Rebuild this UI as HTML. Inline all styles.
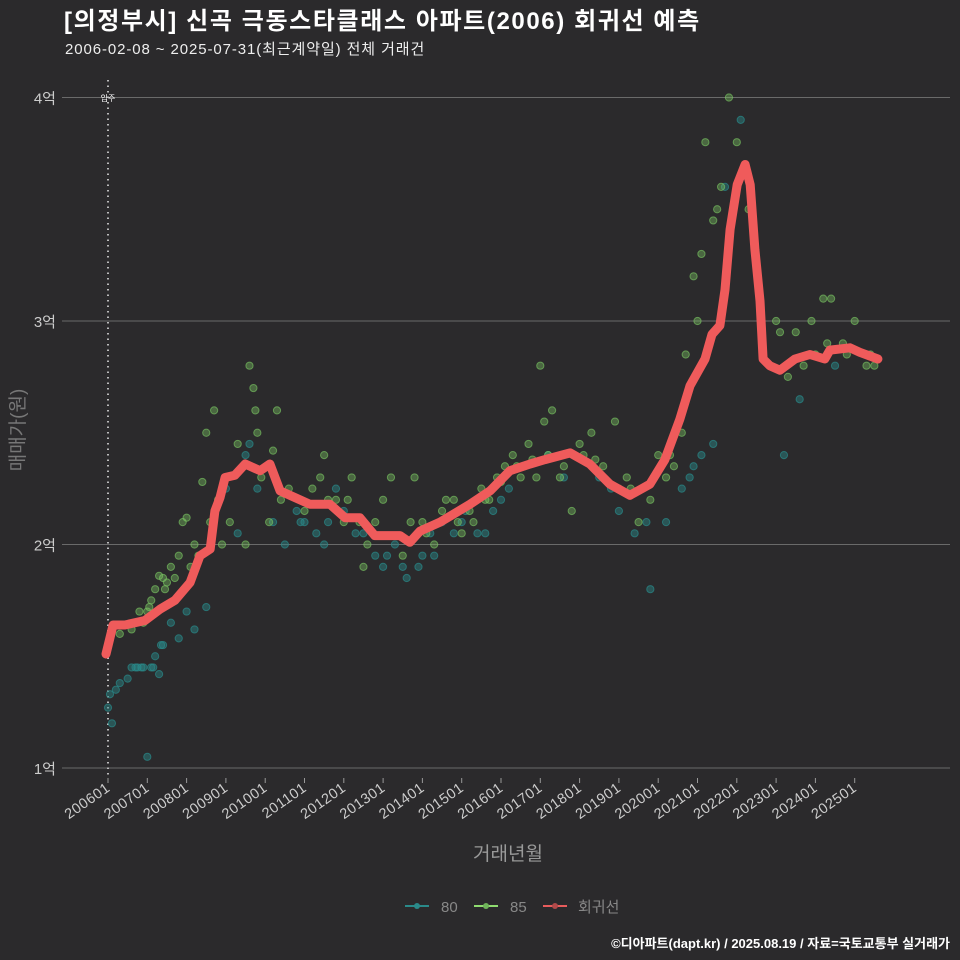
<!DOCTYPE html>
<html><head><meta charset="utf-8"><style>
body{margin:0;background:#2b2a2c;}
svg{display:block;font-family:"Liberation Sans","Noto Sans CJK KR",sans-serif;}
</style></head><body>
<svg id="c" width="960" height="960" xmlns="http://www.w3.org/2000/svg">
<rect width="960" height="960" fill="#2b2a2c"/>
<text x="64" y="29" font-size="24" font-weight="bold" fill="#fff" letter-spacing="1.6">[의정부시] 신곡 극동스타클래스 아파트(2006) 회귀선 예측</text>
<text x="65" y="54" font-size="15" fill="#eee" letter-spacing="0.9">2006-02-08 ~ 2025-07-31(최근계약일) 전체 거래건</text>
<g id="grid"></g><g id="pts"></g><g id="line"></g><g id="axes"></g>
<text x="508" y="860" font-size="19" fill="#999" text-anchor="middle">거래년월</text>
<text transform="translate(24,430) rotate(-90)" font-size="19" fill="#777" text-anchor="middle">매매가(원)</text>
<g>
<g><line x1="405" y1="906" x2="429" y2="906" stroke="#2a8a8a" stroke-width="2"/><circle cx="417" cy="906" r="3" fill="#2a8a8a"/><text x="441" y="912" font-size="15" fill="#888">80</text></g>
<g><line x1="474" y1="906" x2="498" y2="906" stroke="#8fdc70" stroke-width="2"/><circle cx="486" cy="906" r="3" fill="#6fb35a"/><text x="510" y="912" font-size="15" fill="#888">85</text></g>
<g><line x1="543" y1="906" x2="567" y2="906" stroke="#e85c5c" stroke-width="2"/><circle cx="555" cy="906" r="3" fill="#b04a4a"/><text x="578" y="912" font-size="15" fill="#888">회귀선</text></g>
</g>
<text x="950" y="948" font-size="13" font-weight="bold" fill="#fff" text-anchor="end">©디아파트(dapt.kr) / 2025.08.19 / 자료=국토교통부 실거래가</text>
</svg>
<script>
const yTicks=[1,2,3,4];
const yTickLabels=["1억","2억","3억","4억"];
const xTickYears=[2006,2007,2008,2009,2010,2011,2012,2013,2014,2015,2016,2017,2018,2019,2020,2021,2022,2023,2024,2025];
const xTickLabels=["200601","200701","200801","200901","201001","201101","201201","201301","201401","201501","201601","201701","201801","201901","202001","202101","202201","202301","202401","202501"];
const regT=[2005.95,2006.13,2006.43,2006.94,2007.32,2007.70,2008.09,2008.34,2008.60,2008.72,2008.85,2008.98,2009.23,2009.49,2009.87,2010.12,2010.38,2010.76,2011.14,2011.65,2012.03,2012.41,2012.79,2013.43,2013.68,2013.94,2014.45,2015.21,2015.72,2016.23,2016.74,2017.12,2017.76,2018.26,2018.77,2019.28,2019.79,2020.17,2020.55,2020.81,2021.19,2021.37,2021.57,2021.70,2021.83,2022.01,2022.21,2022.34,2022.46,2022.59,2022.67,2022.84,2023.10,2023.48,2023.86,2024.24,2024.37,2024.88,2025.13,2025.59];
const regV=[1.51,1.64,1.64,1.66,1.71,1.75,1.83,1.95,1.98,2.15,2.21,2.30,2.31,2.36,2.33,2.36,2.24,2.21,2.18,2.18,2.12,2.12,2.04,2.04,2.01,2.06,2.10,2.18,2.24,2.33,2.36,2.38,2.41,2.36,2.27,2.22,2.27,2.38,2.56,2.71,2.83,2.94,2.98,3.14,3.41,3.61,3.70,3.61,3.32,3.09,2.83,2.80,2.78,2.83,2.85,2.83,2.87,2.88,2.86,2.83];
const s85T=[2006.3,2006.6,2006.8,2007.0,2007.1,2007.2,2007.3,2007.4,2007.5,2007.6,2007.8,2007.9,2008.0,2008.2,2008.3,2008.4,2008.5,2008.6,2008.7,2008.9,2009.3,2009.5,2009.6,2009.7,2009.75,2009.8,2010.1,2010.2,2010.3,2010.6,2010.9,2011.2,2011.5,2011.8,2012.0,2012.2,2012.5,2012.8,2013.2,2013.5,2013.8,2014.0,2014.3,2014.5,2014.8,2015.0,2015.3,2015.6,2015.9,2016.1,2016.3,2016.5,2016.7,2017.0,2017.1,2017.3,2017.5,2017.8,2018.0,2018.3,2018.6,2018.9,2019.2,2019.5,2019.8,2020.0,2020.2,2020.4,2020.7,2020.9,2021.0,2021.2,2021.4,2021.6,2021.8,2022.0,2022.3,2023.0,2023.3,2023.5,2023.9,2024.0,2024.2,2024.4,2024.7,2025.0,2025.3,2025.5,2006.9,2007.05,2007.25,2007.45,2007.7,2008.1,2008.8,2009.1,2009.9,2010.4,2011.0,2011.4,2011.6,2012.1,2012.4,2012.6,2013.0,2013.7,2014.1,2014.6,2014.9,2015.2,2015.5,2015.7,2016.0,2016.4,2016.8,2016.9,2017.2,2017.6,2018.1,2018.4,2019.0,2019.3,2019.9,2020.3,2020.6,2021.1,2021.5,2023.1,2023.7,2024.3,2024.8,2025.4];
const s85V=[1.6,1.62,1.7,1.7,1.75,1.8,1.86,1.85,1.83,1.9,1.95,2.1,2.12,2.0,1.95,2.28,2.5,2.1,2.6,2.0,2.45,2.0,2.8,2.7,2.6,2.5,2.1,2.42,2.6,2.25,2.2,2.25,2.4,2.2,2.1,2.3,1.9,2.1,2.3,1.95,2.3,2.1,2.0,2.15,2.2,2.05,2.1,2.2,2.3,2.35,2.4,2.3,2.45,2.8,2.55,2.6,2.3,2.15,2.45,2.5,2.35,2.55,2.3,2.1,2.2,2.4,2.3,2.35,2.85,3.2,3.0,3.8,3.45,3.6,4.0,3.8,3.5,3.0,2.75,2.95,3.0,2.85,3.1,3.1,2.9,3.0,2.8,2.8,1.65,1.72,1.7,1.8,1.85,1.9,2.2,2.1,2.3,2.2,2.15,2.3,2.2,2.2,2.1,2.0,2.2,2.1,2.05,2.2,2.1,2.15,2.25,2.2,2.28,2.35,2.38,2.3,2.4,2.35,2.4,2.38,2.25,2.25,2.3,2.4,2.5,3.3,3.5,2.95,2.8,2.9,2.85,2.85];
const s80T=[2006.0,2006.05,2006.1,2006.2,2006.3,2006.5,2006.7,2006.9,2007.0,2007.1,2007.2,2007.3,2007.4,2007.6,2007.8,2008.0,2008.2,2008.5,2009.0,2009.3,2009.5,2009.8,2010.2,2010.5,2010.8,2011.0,2011.3,2011.5,2011.8,2012.0,2012.3,2012.8,2013.0,2013.3,2013.6,2013.9,2014.2,2014.5,2014.8,2015.1,2015.4,2015.8,2016.2,2016.6,2017.2,2017.6,2018.5,2019.0,2019.4,2019.7,2019.8,2020.2,2020.6,2020.9,2021.4,2021.7,2022.1,2023.2,2023.6,2024.5,2006.6,2006.75,2006.85,2007.15,2007.35,2009.6,2010.9,2011.6,2012.5,2013.1,2013.5,2014.0,2014.3,2015.0,2015.6,2016.0,2018.8,2020.8,2021.1];
const s80V=[1.27,1.33,1.2,1.35,1.38,1.4,1.45,1.45,1.05,1.45,1.5,1.42,1.55,1.65,1.58,1.7,1.62,1.72,2.25,2.05,2.4,2.25,2.1,2.0,2.15,2.1,2.05,2.0,2.25,2.15,2.05,1.95,1.9,2.0,1.85,1.9,2.05,2.1,2.05,2.15,2.05,2.15,2.25,2.35,2.4,2.3,2.3,2.15,2.05,2.1,1.8,2.1,2.25,2.35,2.45,3.6,3.9,2.4,2.65,2.8,1.45,1.45,1.45,1.45,1.55,2.45,2.1,2.1,2.05,1.95,1.9,1.95,1.95,2.1,2.05,2.2,2.25,2.3,2.4];

const X=t=>108+(t-2006)*39.3;
const Y=v=>768-(v-1)*223.5;
const NS="http://www.w3.org/2000/svg";
function mk(tag,attrs,parent){const e=document.createElementNS(NS,tag);for(const k in attrs)e.setAttribute(k,attrs[k]);parent.appendChild(e);return e;}
const grid=document.getElementById('grid'),axes=document.getElementById('axes'),pts=document.getElementById('pts'),lg=document.getElementById('line');
yTicks.forEach((v,i)=>{
  const l=mk('line',{x1:62,x2:950,y1:Y(v),y2:Y(v),stroke:'#6a6a6a','stroke-width':1},grid);
  
  
  const t=mk('text',{x:56,y:Y(v)+6,'font-size':15,fill:'#ccc','text-anchor':'end'},axes);
  t.textContent=yTickLabels[i];
  
  
});
const mv=mk('line',{x1:X(2006),x2:X(2006),y1:80,y2:778,stroke:'#bbb','stroke-width':2,'stroke-dasharray':'1.5 4'},grid);


const mt=mk('text',{x:X(2006),y:101,'font-size':8,fill:'#fff','text-anchor':'middle'},grid);
mt.textContent='입주';


xTickYears.forEach((yr,i)=>{
  const x=X(yr);
  const tk=mk('line',{x1:x,x2:x,y1:778,y2:783,stroke:'#999'},axes);
  
  
  const t=mk('text',{transform:`translate(${x+3},${790}) rotate(-35)`,'font-size':14.5,fill:'#ccc','text-anchor':'end','letter-spacing':0.5},axes);
  t.textContent=xTickLabels[i];
  
  
});
s80T.forEach((t,i)=>{
  const c=mk('circle',{cx:X(t),cy:Y(s80V[i]),r:3.6,fill:'#2a8a8a','fill-opacity':0.45,stroke:'#2a8a8a','stroke-opacity':0.7,'stroke-width':1},pts);
  
  
});
s85T.forEach((t,i)=>{
  const c=mk('circle',{cx:X(t),cy:Y(s85V[i]),r:3.6,fill:'#7ac462','fill-opacity':0.4,stroke:'#7ac462','stroke-opacity':0.65,'stroke-width':1},pts);
  
  
});
const d=regT.map((t,i)=>(i?'L':'M')+X(t).toFixed(1)+','+Y(regV[i]).toFixed(1)).join('');
const p=mk('path',{d:d,fill:'none',stroke:'#ef5b5b','stroke-width':9,'stroke-linejoin':'round','stroke-linecap':'round'},lg);


</script>
</body></html>
